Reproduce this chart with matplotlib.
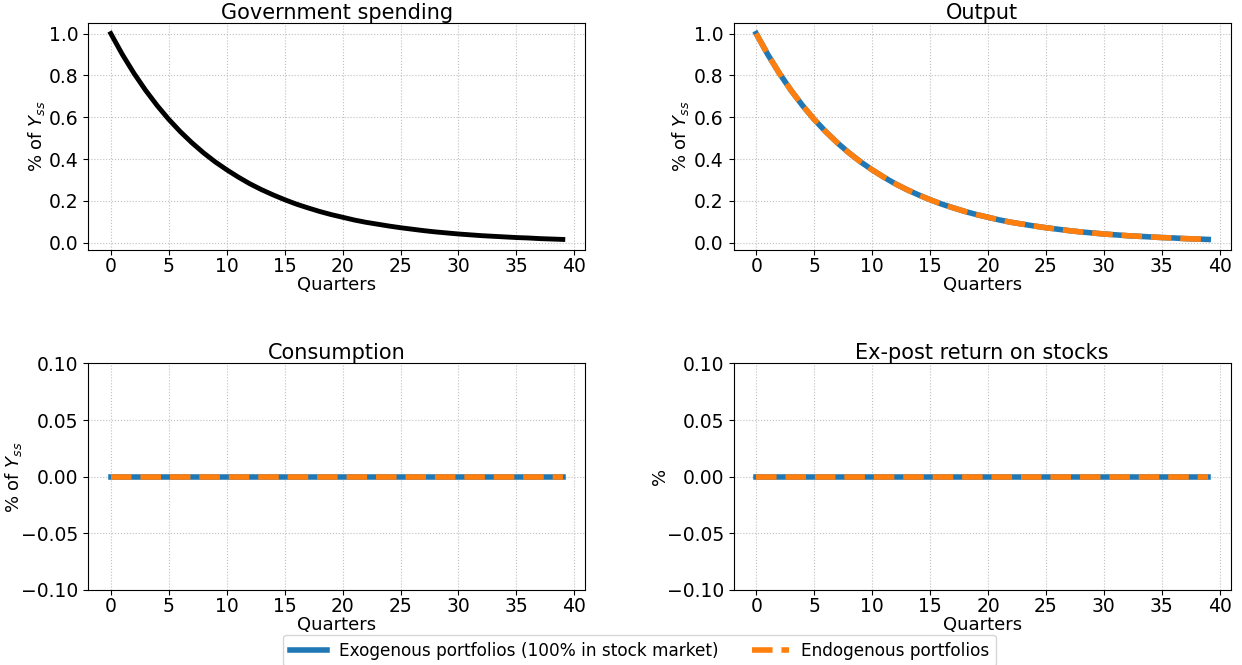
import numpy as np
import matplotlib
matplotlib.use("Agg")
import matplotlib.pyplot as plt

# ---------------------------------------------------------------------------
# Impulse responses (40 quarters)
# ---------------------------------------------------------------------------
quarters = list(range(40))
gov_spending = [1.000, 0.900, 0.810, 0.729, 0.656, 0.590, 0.531, 0.478, 0.430, 0.387,
                0.349, 0.314, 0.282, 0.254, 0.229, 0.206, 0.185, 0.167, 0.150, 0.135,
                0.122, 0.109, 0.098, 0.089, 0.080, 0.072, 0.065, 0.058, 0.052, 0.047,
                0.042, 0.038, 0.034, 0.031, 0.028, 0.025, 0.023, 0.020, 0.018, 0.016]
output_exo = list(gov_spending)
output_endo = list(gov_spending)
cons_exo = [0.0] * 40
cons_endo = [0.0] * 40
ret_exo = [0.0] * 40
ret_endo = [0.0] * 40

LABEL_EXO = "Exogenous portfolios (100% in stock market)"
LABEL_ENDO = "Endogenous portfolios"
BLUE, ORANGE = "#1f77b4", "#ff7f0e"
FS = 13

plt.rcParams["font.size"] = FS

fig, axes = plt.subplots(2, 2, figsize=(12.42, 6.65), dpi=100)
fig.subplots_adjust(left=0.071, right=0.991, bottom=0.113, top=0.965,
                    wspace=0.298, hspace=0.502)

def style(ax, title, ylabel, ylab_x):
    ax.set_title(title, fontsize=FS + 2, pad=3)
    ax.set_xlabel("Quarters", fontsize=FS, labelpad=0)
    ax.set_ylabel(ylabel, fontsize=FS)
    ax.yaxis.set_label_coords(ylab_x, 0.5)
    ax.set_xticks(range(0, 41, 5))
    ax.grid(linestyle=":", color="0.75", linewidth=0.8)
    ax.tick_params(labelsize=13.5)
    ax.tick_params(axis="x", pad=1.5)

ax = axes[0, 0]
ax.plot(quarters, gov_spending, color="black", linewidth=3.5)
style(ax, "Government spending", r"% of $Y_{ss}$", -0.082)

ax = axes[0, 1]
ax.plot(quarters, output_exo, color=BLUE, linewidth=4, label=LABEL_EXO)
ax.plot(quarters, output_endo, color=ORANGE, linewidth=4, linestyle="--", label=LABEL_ENDO)
style(ax, "Output", r"% of $Y_{ss}$", -0.086)

ax = axes[1, 0]
ax.plot(quarters, cons_exo, color=BLUE, linewidth=4)
ax.plot(quarters, cons_endo, color=ORANGE, linewidth=4, linestyle="--")
ax.set_ylim(-0.1, 0.1)
ax.set_yticks([-0.1, -0.05, 0.0, 0.05, 0.1])
style(ax, "Consumption", r"% of $Y_{ss}$", -0.129)

ax = axes[1, 1]
ax.plot(quarters, ret_exo, color=BLUE, linewidth=4)
ax.plot(quarters, ret_endo, color=ORANGE, linewidth=4, linestyle="--")
ax.set_ylim(-0.1, 0.1)
ax.set_yticks([-0.1, -0.05, 0.0, 0.05, 0.1])
style(ax, "Ex-post return on stocks", "%", -0.129)

handles, labels = axes[0, 1].get_legend_handles_labels()
fig.legend(handles, labels, loc="upper center", bbox_to_anchor=(0.515, 0.058),
           ncol=2, fontsize=12.2, frameon=True, handlelength=2.2, handletextpad=0.7)

plt.savefig("out.png", dpi=100)
plt.close()
